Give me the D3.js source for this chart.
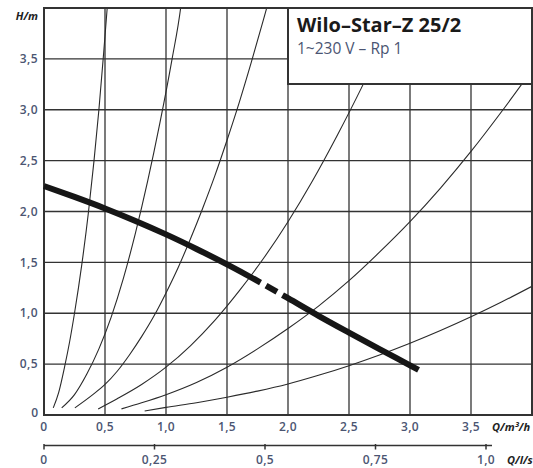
<!DOCTYPE html>
<html>
<head>
<meta charset="utf-8">
<script src="https://cdn.jsdelivr.net/npm/d3@7"></script>
<style>
  body { margin: 0; background: #fff; }
  text { font-family: "Open Sans", sans-serif; }
</style>
</head>
<body>
<svg></svg>
<script>
var width = 533;
var height = 468;

// axis ticks
var hTicks = [0.5, 1, 1.5, 2, 2.5, 3, 3.5];
var hLabels = ["0,5", "1,0", "1,5", "2,0", "2,5", "3,0", "3,5"];
var qTicks = [0, 0.5, 1, 1.5, 2, 2.5, 3, 3.5];
var qLabels = ["0", "0,5", "1,0", "1,5", "2,0", "2,5", "3,0", "3,5"];
var lsTicks = [0, 0.25, 0.5, 0.75, 1];
var lsLabels = ["0", "0,25", "0,5", "0,75", "1,0"];

// pump curve [Q m3/h, H m]
var pumpCurve = [[0, 2.25], [0.25, 2.143], [0.5, 2.03], [0.75, 1.907], [1.0, 1.775], [1.25, 1.632],
                 [1.5, 1.48], [1.75, 1.318], [2.0, 1.148], [2.25, 0.975], [2.5, 0.81],
                 [2.75, 0.648], [3.0, 0.488], [3.07, 0.443]];
// Q where the curve is broken: solid end, dash start, dash end, solid start
var pumpBreak = [1.775, 1.82, 1.91, 1.955];

// system curves
var sys1 = [[0.076, 0.07], [0.12, 0.22], [0.17, 0.48], [0.21, 0.72], [0.25, 1.0], [0.31, 1.48],
            [0.365, 2.0], [0.41, 2.5], [0.45, 3.0], [0.485, 3.5], [0.518, 4.0], [0.53, 4.2]];
var sys2 = [[0.145, 0.07], [0.25, 0.2], [0.35, 0.4], [0.45, 0.65], [0.55, 0.96], [0.65, 1.34],
            [0.75, 1.79], [0.85, 2.3], [0.95, 2.87], [1.05, 3.5], [1.12, 4.0], [1.14, 4.2]];
var sys3 = [[0.253, 0.07], [0.4, 0.2], [0.5, 0.3], [0.6, 0.43], [0.7, 0.59], [0.8, 0.77],
            [0.9, 0.97], [1.0, 1.2], [1.1, 1.45], [1.2, 1.73], [1.3, 2.03], [1.4, 2.35],
            [1.5, 2.7], [1.6, 3.07], [1.7, 3.47], [1.8, 3.89], [1.86, 4.15]];
var sys4 = [[0.444, 0.06], [0.6, 0.16], [0.8, 0.3], [1.0, 0.47], [1.2, 0.68], [1.4, 0.93],
            [1.6, 1.22], [1.8, 1.54], [2.0, 1.9], [2.2, 2.3], [2.4, 2.74], [2.6, 3.21],
            [2.8, 3.72], [2.95, 4.15]];
var sys5 = [[0.635, 0.06], [0.8, 0.12], [1.0, 0.2], [1.25, 0.32], [1.5, 0.47], [1.75, 0.65],
            [2.0, 0.85], [2.25, 1.07], [2.5, 1.32], [2.75, 1.6], [3.0, 1.9], [3.25, 2.23],
            [3.5, 2.59], [3.75, 2.98], [4.0, 3.39]];
var sys6 = [[0.825, 0.04], [1.0, 0.075], [1.25, 0.12], [1.5, 0.175], [1.75, 0.235], [2.0, 0.305],
            [2.25, 0.39], [2.5, 0.485], [2.75, 0.59], [3.0, 0.705], [3.25, 0.83], [3.5, 0.965],
            [3.75, 1.11], [4.0, 1.265]];
var systemCurves = [sys1, sys2, sys3, sys4, sys5, sys6];

var labelColor = "#4b5572";
var lineColor = "#333";

var x = d3.scaleLinear().domain([0, 4]).range([44, 532]);
var y = d3.scaleLinear().domain([0, 4]).range([415, 8]);
var xls = d3.scaleLinear().domain([0, 1]).range([44, 486]);

var svg = d3.select("svg")
            .attr("width", width)
            .attr("height", height);

svg.append("defs")
    .append("clipPath")
        .attr("id", "plot")
    .append("rect")
        .attr("x", x(0))
        .attr("y", y(4))
        .attr("width", x(4) - x(0))
        .attr("height", y(0) - y(4));

// grid
svg.append("g")
    .selectAll("line")
    .data(qTicks.slice(1))
    .join("line")
        .attr("x1", d => x(d)).attr("x2", d => x(d))
        .attr("y1", y(0)).attr("y2", y(4))
        .attr("stroke", lineColor)
        .attr("stroke-width", 1.3);

svg.append("g")
    .selectAll("line")
    .data(hTicks)
    .join("line")
        .attr("x1", x(0)).attr("x2", x(4))
        .attr("y1", d => y(d)).attr("y2", d => y(d))
        .attr("stroke", lineColor)
        .attr("stroke-width", 1.3);

// system curves
var line = d3.line()
            .x(d => x(d[0]))
            .y(d => y(d[1]))
            .curve(d3.curveMonotoneX);

svg.append("g")
    .attr("clip-path", "url(#plot)")
    .selectAll("path")
    .data(systemCurves)
    .join("path")
        .attr("d", line)
        .attr("fill", "none")
        .attr("stroke", "#2a2a2a")
        .attr("stroke-width", 1.1);

// frame
svg.append("rect")
    .attr("x", x(0))
    .attr("y", y(4))
    .attr("width", x(4) - x(0))
    .attr("height", y(0) - y(4))
    .attr("fill", "none")
    .attr("stroke", lineColor)
    .attr("stroke-width", 2);

// pump curve with its short dashed break
var pump = svg.append("path")
    .attr("d", line(pumpCurve))
    .attr("fill", "none")
    .attr("stroke", "#161616")
    .attr("stroke-width", 6);

var node = pump.node();
var total = node.getTotalLength();
function lengthAt(q) {
    var px = x(q), lo = 0, hi = total;
    for (var i = 0; i < 40; i++) {
        var mid = (lo + hi) / 2;
        if (node.getPointAtLength(mid).x < px) lo = mid; else hi = mid;
    }
    return lo;
}
var L = pumpBreak.map(lengthAt);
pump.attr("stroke-dasharray", [L[0], L[1] - L[0], L[2] - L[1], L[3] - L[2], total].join(","));

// title box
svg.append("rect")
    .attr("x", 288)
    .attr("y", y(4))
    .attr("width", x(4) - 288)
    .attr("height", 84 - y(4))
    .attr("fill", "#fff")
    .attr("stroke", lineColor)
    .attr("stroke-width", 2);

svg.append("text")
    .attr("x", 297)
    .attr("y", 32)
    .style("font-size", "20px")
    .style("font-weight", "bold")
    .attr("fill", "#1a1a1a")
    .text("Wilo–Star–Z 25/2");

svg.append("text")
    .attr("x", 297)
    .attr("y", 54)
    .style("font-size", "15.5px")
    .attr("fill", labelColor)
    .text("1~230 V – Rp 1");

// y axis labels
var tickFont = "12px";

svg.append("g")
    .selectAll("text")
    .data(hTicks)
    .join("text")
        .attr("x", 38)
        .attr("y", d => y(d))
        .attr("dy", "0.35em")
        .attr("text-anchor", "end")
        .style("font-size", tickFont)
        .style("font-weight", "600")
        .style("letter-spacing", "0.4px")
        .attr("fill", labelColor)
        .text((d, i) => hLabels[i]);

svg.append("text")
    .attr("x", 38).attr("y", y(0) - 2)
    .attr("dy", "0.35em")
    .attr("text-anchor", "end")
    .style("font-size", tickFont)
    .style("font-weight", "600")
    .attr("fill", labelColor)
    .text("0");

svg.append("text")
    .attr("x", 38).attr("y", 16)
    .attr("dy", "0.35em")
    .attr("text-anchor", "end")
    .style("font-size", "11px")
    .style("font-weight", "bold")
    .style("font-style", "italic")
    .attr("fill", "#222")
    .text("H/m");

// Q m3/h labels
svg.append("g")
    .selectAll("text")
    .data(qTicks)
    .join("text")
        .attr("x", d => x(d))
        .attr("y", 427)
        .attr("dy", "0.35em")
        .attr("text-anchor", "middle")
        .style("font-size", tickFont)
        .style("font-weight", "600")
        .style("letter-spacing", "0.4px")
        .attr("fill", labelColor)
        .text((d, i) => qLabels[i]);

svg.append("text")
    .attr("x", 492).attr("y", 427)
    .attr("dy", "0.35em")
    .style("font-size", "11px")
    .style("font-weight", "bold")
    .style("font-style", "italic")
    .attr("fill", "#222")
    .text("Q/m³/h");

// second axis in l/s
var ls = svg.append("g");
ls.append("line")
    .attr("x1", xls(0)).attr("x2", xls(1) + 6)
    .attr("y1", 445.5).attr("y2", 445.5)
    .attr("stroke", lineColor)
    .attr("stroke-width", 1.5);

ls.selectAll(".tick")
    .data(lsTicks)
    .join("line")
        .attr("class", "tick")
        .attr("x1", d => xls(d)).attr("x2", d => xls(d))
        .attr("y1", 444).attr("y2", 449.5)
        .attr("stroke", lineColor)
        .attr("stroke-width", 1.5);

ls.selectAll(".lbl")
    .data(lsTicks)
    .join("text")
        .attr("class", "lbl")
        .attr("x", d => xls(d))
        .attr("y", 460)
        .attr("dy", "0.35em")
        .attr("text-anchor", "middle")
        .style("font-size", tickFont)
        .style("font-weight", "600")
        .style("letter-spacing", "0.4px")
        .attr("fill", labelColor)
        .text((d, i) => lsLabels[i]);

svg.append("text")
    .attr("x", 507).attr("y", 460)
    .attr("dy", "0.35em")
    .style("font-size", "11px")
    .style("font-weight", "bold")
    .style("font-style", "italic")
    .attr("fill", "#222")
    .text("Q/l/s");
</script>
</body>
</html>
